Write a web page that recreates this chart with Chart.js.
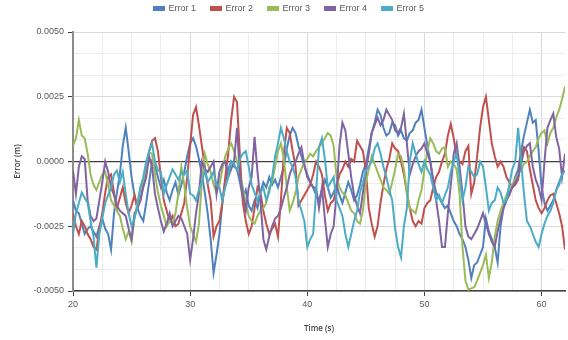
<!DOCTYPE html>
<html>
<head>
<meta charset="utf-8">
<script src="https://cdn.jsdelivr.net/npm/chart.js@4.4.0/dist/chart.umd.min.js"></script>
<style>
  html, body { margin: 0; padding: 0; background: #fff; }
  #wrap { width: 568px; height: 340px; }
</style>
</head>
<body>
<div id="wrap"><canvas id="chart" width="568" height="340"></canvas></div>
<script>
// samples every 0.25 s from t = 20 s, values in mm
const startTime = 20;
const sampleStep = 0.25;

const seriesNames = ['Error 1', 'Error 2', 'Error 3', 'Error 4', 'Error 5'];
const seriesColors = ['#4f81bd', '#c0504d', '#9bbb59', '#8064a2', '#4bacc6'];

const error1 = [
  -1.5, -1.9, -2.0, -2.4, -2.8, -2.6, -2.5, -2.7, -2.9, -2.5, -2.2, -2.6,
  -2.8, -3.4, -2.0, -1.2, -0.5, 0.6, 1.3, 0.4, -0.6, -1.3, -1.8, -2.1,
  -2.3, -1.6, -0.8, 0.0, -0.2, -0.6, -1.0, -0.7, -1.2, -1.5, -1.1, -0.8,
  -1.3, -0.9, -0.4, 0.2, 0.7, 0.9, 0.6, 0.1, -0.5, -1.2, -2.0, -3.0,
  -4.3, -3.6, -2.8, -1.6, -0.8, -0.3, 0.0, -0.2, -0.3, -0.8, -1.4, -1.1,
  -1.7, -1.9, -1.5, -1.8, -1.2, -0.8, -1.0, -0.6, -0.9, -0.7, -1.0, -0.6,
  -0.2, 0.5, 1.0, 1.3, 1.1, 0.6, 0.2, -0.2, -0.5, -0.8, -1.0, -1.3,
  -1.5, -1.1, -0.7, -1.0, -1.4, -1.2, -0.9, -1.3, -1.6, -1.2, -0.8, -1.1,
  -1.5, -1.3, -0.9, -0.4, -0.1, 0.5, 1.1, 1.5, 2.0, 1.8, 1.3, 1.0,
  1.1, 1.5, 1.4, 1.0, 1.2, 0.9, 0.8, 1.1, 1.2, 1.5, 1.6, 2.0,
  1.3, 0.6, 0.0, -0.7, -1.2, -1.4, -1.6, -1.8, -1.7, -2.0, -2.3, -2.5,
  -2.8, -3.0, -3.3, -3.8, -4.5, -4.0, -3.9, -3.6, -3.3, -2.2, -2.7, -3.0,
  -3.3, -3.9, -2.5, -1.8, -1.5, -1.2, -1.0, -0.6, -0.3, 0.4, 1.0, 1.5,
  2.0, 1.5, 1.6, 0.4, -1.0, -1.6, -1.9, -1.7, -1.5, -1.1, -0.8, -0.5,
  -0.35
];

const error2 = [
  -2.0, -2.5, -2.8, -2.3, -2.5, -2.8, -3.0, -3.3, -3.4, -2.6, -2.0, -1.2,
  -0.6, -0.5, -1.2, -1.8, -1.4, -1.0, -1.6, -2.0, -1.7, -1.3, -1.8, -1.5,
  -0.9, -0.4, 0.4, 0.8, 0.9, 0.4, -0.6, -1.5, -1.9, -2.3, -2.1, -2.5,
  -2.4, -2.0, -1.6, -0.6, 0.6, 1.8, 2.1, 1.4, 0.6, -0.2, -0.9, -1.5,
  -2.9, -2.5, -2.3, -1.6, -0.6, 0.3, 1.6, 2.5, 2.3, 0.2, -1.6, -2.3,
  -2.8, -2.5, -1.8, -1.0, -1.2, -1.9, -2.4, -2.8, -2.6, -2.4, -2.9, -1.5,
  0.3, 1.3, 1.1, 0.4, -0.2, -1.7, -1.5, -1.3, -1.1, -0.9, -0.5, 0.0,
  -0.2, -0.5, -1.3, -1.9, -1.6, -1.5, -1.0, -0.5, -0.3, 0.0, -0.2, 0.1,
  0.0, 0.8, 0.6, 0.4, -0.35, -1.8, -2.4, -2.9, -2.5, -1.6, -0.9, -0.3,
  0.1, 0.7, 0.5, 0.4, 0.0, -0.5, -1.2, -1.8, -2.3, -2.5, -2.3, -2.4,
  -1.8, -1.6, -1.5, -1.0, -0.6, -0.4, 0.0, 0.3, 1.0, 1.45, 0.9, 0.2,
  0.0, -0.1, 0.4, 0.6, -1.25, -0.8, 0.2, 1.3, 2.1, 2.5, 1.6, 0.7,
  0.2, -0.2, 0.0, -0.2, -0.6, -0.8, -1.0, -0.9, -0.7, 0.2, 0.55, 0.4,
  -0.3, -0.9, -1.5, -1.8, -2.0, -1.8, -1.5, -1.3, -1.25, -1.6, -2.0, -2.5,
  -3.4
];

const error3 = [
  0.6, 0.9, 1.6, 1.0, 0.9, 0.3, -0.5, -0.9, -1.1, -0.8, -0.5, -0.4,
  -0.9, -1.5, -1.7, -1.9, -2.1, -2.6, -3.0, -2.7, -3.1, -2.2, -1.6, -1.0,
  -0.8, -0.2, 0.35, 0.3, -0.5, -1.2, -1.7, -2.1, -2.5, -2.3, -2.4, -2.0,
  -1.2, -0.2, -0.9, -1.8, -2.5, -2.8, -3.1, -2.4, -0.8, 0.3, -0.1, -0.4,
  -0.9, -1.2, -0.9, -0.3, 0.2, 0.5, 0.7, 0.4, 0.0, -0.5, -1.0, -1.6,
  -2.1, -2.3, -2.4, -2.1, -1.9, -1.8, -1.6, -1.0, -0.8, -0.2, 0.4, 0.7,
  0.1, -1.0, -1.9, -1.6, -1.2, -0.6, -0.3, 0.0, 0.1, 0.3, 0.2, 0.4,
  0.55, 0.7, 0.9, 1.1, 1.0, 0.6, -0.6, -1.0, -1.2, -1.3, -1.6, -1.9,
  -2.0, -2.3, -2.4, -1.9, -0.8, -0.3, 0.2, -0.1, -0.4, -0.7, -1.0, -1.1,
  -1.25, -0.8, -0.3, 0.3, 0.2, -0.3, -1.2, -1.8, -1.9, -2.0, -1.5, -1.1,
  -0.3, 0.4, 0.9, 0.7, 0.4, 0.3, 0.5, 0.55, -0.2, 0.0, -0.1, -0.3,
  -1.25, -3.3, -4.6, -4.95, -4.9, -4.85, -4.6, -4.3, -4.0, -3.6, -4.5, -3.9,
  -2.9, -2.3, -1.9, -1.6, -1.3, -1.0, -0.9, -0.7, -0.5, -0.3, -0.1, 0.0,
  0.2, 0.4, 0.55, 0.9, 1.1, 1.2, 0.7, 1.1, 1.3, 1.7, 2.0, 2.4,
  2.9
];

const error4 = [
  -0.35, -1.25, -0.2, 0.2, 0.1, -1.5, -2.1, -2.3, -2.2, -1.5, -0.8, 0.0,
  -0.4, -1.0, -1.3, -1.7, -1.9, -2.0, -2.1, -2.6, -3.0, -2.0, -1.8, -1.5,
  -1.0, -0.6, 0.2, -0.2, -1.25, -1.8, -2.3, -2.7, -2.4, -2.0, -2.5, -2.3,
  -2.1, -2.2, -2.5, -2.8, -3.8, -3.0, -2.0, -1.25, 0.0, -0.3, -0.4, -0.2,
  0.0, -1.25, -0.4, -0.1, 0.0, -0.6, -0.3, 0.0, 1.3, -0.5, -1.25, -1.9,
  -1.0, -0.6, 0.95, -0.4, -1.5, -3.0, -3.4, -2.9, -2.5, -2.2, -2.1, -1.8,
  -1.4, -1.0, -0.5, -0.2, 0.0, 0.3, 0.55, -0.1, -0.6, -0.8, -1.0, -1.0,
  -1.8, -1.0, -2.2, -3.3, -2.8, -2.5, -1.2, 0.6, 1.5, 1.2, 0.3, -0.6,
  -1.3, -1.7, -2.0, -1.2, -0.35, 0.3, 1.1, 1.4, 1.7, 1.4, 1.6, 2.0,
  1.8, 1.6, 1.2, 1.1, 1.3, 1.85, 0.7, -0.5, -0.1, 0.2, 0.4, 0.5,
  0.7, 0.3, 0.0, -0.8, -1.5, -2.3, -3.3, -3.3, -2.0, -0.9, 0.3, 0.7,
  -0.2, -1.25, -2.5, -2.9, -3.0, -2.8, -2.6, -2.3, -2.0, -2.4, -2.8, -3.1,
  -3.3, -2.7, -2.2, -1.8, -1.5, -1.3, -1.0, -0.8, -0.6, -0.1, 0.4, 0.6,
  0.7, -0.2, -0.7, -1.0, -1.5, 0.0, 1.3, 1.6, 1.85, 0.95, 0.5, -0.6,
  0.3
];

const error5 = [
  -2.8, -2.0, -1.6, -1.2, -1.4, -1.6, -2.3, -2.9, -4.1, -2.8, -2.2, -1.6,
  -1.3, -1.0, -0.5, -0.35, -0.8, -0.4, -1.25, -2.0, -2.5, -2.2, -1.7, -1.0,
  -0.6, 0.0, 0.4, 0.7, 0.0, -0.35, -0.4, -1.25, -0.9, -0.6, -0.3, -0.5,
  -0.7, -0.4, -0.5, -0.35, -1.25, -1.3, -1.5, -1.1, -0.8, -0.35, -0.8, -0.6,
  -0.4, -0.9, -1.0, -1.5, -1.0, -0.6, 0.0, -0.1, -0.35, 0.1, 0.3, 0.4,
  -0.2, -0.9, -1.2, -1.5, -1.2, -1.0, -1.5, -1.2, -0.6, 0.2, 0.7, 1.3,
  0.9, 0.4, 0.0, -0.2, -0.6, -1.5, -1.9, -2.3, -3.3, -3.0, -2.8, -1.2,
  0.55, 0.9, 0.1, -1.0, -0.8, -0.6, -1.5, -1.8, -2.1, -2.8, -3.3, -2.8,
  -2.3, -1.9, -1.2, -0.8, -0.35, -0.2, 0.0, 0.5, 0.7, 0.3, -0.2, -0.6,
  -1.1, -1.5, -2.6, -3.3, -3.7, -2.5, -1.8, 0.0, 0.7, 0.3, -0.1, -0.4,
  0.0, -0.3, -0.5, -1.0, -1.5, -1.3, -1.6, -1.3, -1.0, -0.4, 0.0, 0.3,
  -0.6, -1.5, -1.0, -0.2, -0.4, -0.6, -0.5, 0.0, -0.2, -1.0, -1.9, -1.6,
  -1.5, -1.0, -1.2, -1.6, -1.5, -0.9, -0.3, 0.0, 1.3, 0.0, -1.25, -2.3,
  -2.5, -2.8, -3.1, -3.3, -2.8, -2.4, -2.1, -1.9, -1.6, -1.1, -0.9, -0.5,
  -0.35
];

const allSeries = [error1, error2, error3, error4, error5];

// axis ticks
const xTickValues = [20, 22.5, 25, 27.5, 30, 32.5, 35, 37.5, 40, 42.5, 45, 47.5, 50, 52.5, 55, 57.5, 60];
const yTickCount = 12; // -0.005 .. 0.005 in sixths of 0.005

function toPoints(values) {
  return values.map((v, i) => ({ x: startTime + i * sampleStep, y: v / 1000 }));
}

const datasets = allSeries.map((values, i) => ({
  label: seriesNames[i],
  data: toPoints(values),
  borderColor: seriesColors[i],
  backgroundColor: seriesColors[i],
  borderWidth: 2,
  pointRadius: 0,
  tension: 0,
  order: allSeries.length - 1 - i // later series on top
}));

const isMajorX = v => Math.abs(v % 10) < 1e-9;

// legend keeps its item spacing but takes a fixed height
const legendHeight = {
  id: 'legendHeight',
  beforeLayout(chart) {
    const lg = chart.legend;
    if (lg && !lg._fixed) {
      const fit = lg.fit.bind(lg);
      lg.fit = function () { fit(); this.height = 43; };
      lg._fixed = true;
    }
  }
};

new Chart(document.getElementById('chart'), {
  type: 'line',
  data: { datasets: datasets },
  plugins: [legendHeight],
  options: {
    responsive: false,
    animation: false,
    layout: { padding: { left: 13, right: 3, top: -11, bottom: 0 } },
    plugins: {
      tooltip: { enabled: false },
      legend: {
        position: 'top',
        reverse: true,
        labels: {
          boxWidth: 10,
          boxHeight: 3,
          padding: 15,
          color: '#595959',
          font: { family: 'Liberation Sans', size: 9 }
        }
      }
    },
    scales: {
      x: {
        type: 'linear',
        min: 20,
        max: 62,
        afterBuildTicks: s => { s.ticks = xTickValues.map(v => ({ value: v })); },
        afterFit: s => { s.height = 49; },
        ticks: {
          autoSkip: false,
          maxRotation: 0,
          padding: 3,
          color: '#595959',
          font: { family: 'Liberation Sans', size: 9 },
          callback: v => isMajorX(v) ? String(v) : ''
        },
        grid: {
          color: c => isMajorX(c.tick.value) ? '#d9d9d9' : '#ececec',
          tickColor: c => isMajorX(c.tick.value) ? '#404040' : 'rgba(0,0,0,0)',
          tickLength: 5,
          lineWidth: 1
        },
        border: { color: '#404040', width: 1.5 },
        title: {
          display: true,
          text: 'Time (s)',
          color: '#404040',
          font: { family: 'Open Sans', size: 8, weight: '600' },
          padding: { top: 1, bottom: 6 }
        }
      },
      y: {
        min: -0.005,
        max: 0.005,
        afterBuildTicks: s => {
          const t = [];
          for (let i = 0; i <= yTickCount; i++) t.push({ value: -0.005 + i * 0.01 / yTickCount });
          s.ticks = t;
        },
        afterFit: s => { s.width = 60; },
        ticks: {
          autoSkip: false,
          padding: 4,
          color: '#595959',
          font: { family: 'Liberation Sans', size: 9 },
          callback: (v, i) => i % 3 === 0 ? (Math.abs(v) < 1e-9 ? 0 : v).toFixed(4) : ''
        },
        grid: {
          color: c => c.index === 6 ? '#404040' : (c.index % 3 === 0 ? '#d9d9d9' : '#ececec'),
          tickColor: c => c.index % 3 === 0 ? '#404040' : 'rgba(0,0,0,0)',
          tickLength: 5,
          lineWidth: c => c.index === 6 ? 1.2 : 1
        },
        border: { color: '#8c8c8c', width: 2 },
        title: {
          display: true,
          text: 'Error (m)',
          color: '#404040',
          font: { family: 'Open Sans', size: 8, weight: '600' },
          padding: { top: 0, bottom: 4 }
        }
      }
    }
  }
});
</script>
</body>
</html>
